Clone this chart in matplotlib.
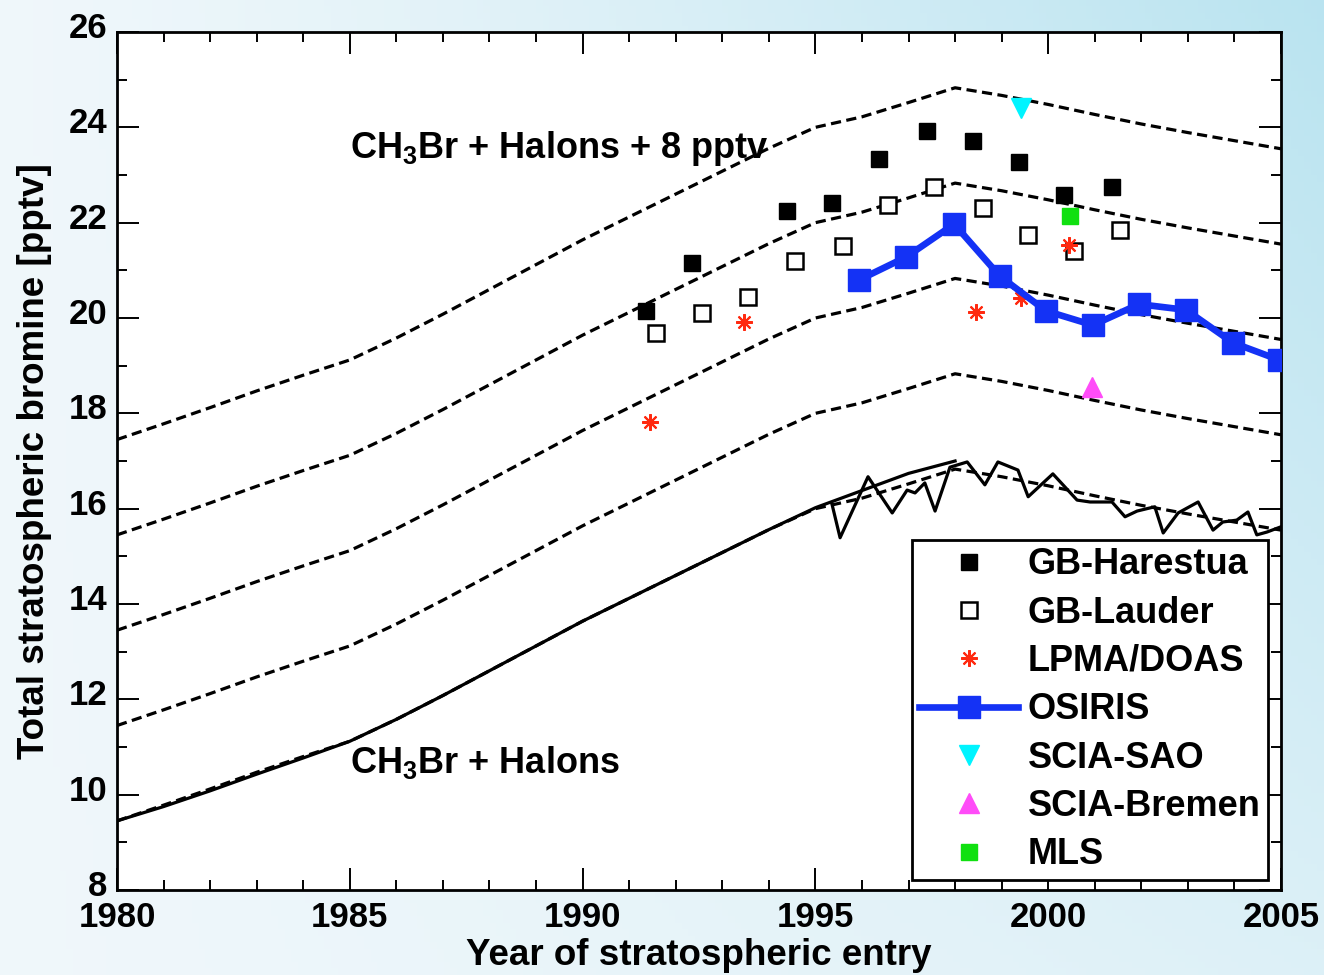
import numpy as np
import matplotlib
matplotlib.use("Agg")
import matplotlib.pyplot as plt
import matplotlib.transforms as mtransforms

plt.rcParams['font.family'] = ['Liberation Sans', 'DejaVu Sans']
plt.rcParams['font.weight'] = 'bold'
plt.rcParams['mathtext.fontset'] = 'custom'
plt.rcParams['mathtext.rm'] = 'Liberation Sans:bold'
plt.rcParams['mathtext.it'] = 'Liberation Sans:bold'
plt.rcParams['mathtext.bf'] = 'Liberation Sans:bold'
plt.rcParams['mathtext.default'] = 'rm'

# ---------------- data ----------------
model_years = list(range(1980, 2006))
model_base = [9.45, 9.78, 10.12, 10.47, 10.80, 11.12, 11.58, 12.08, 12.60, 13.12,
              13.64, 14.12, 14.60, 15.08, 15.56, 16.00, 16.22, 16.52, 16.83, 16.67,
              16.48, 16.27, 16.07, 15.89, 15.72, 15.55]
offsets = [0, 2, 4, 6, 8]

smooth_years = list(range(1980, 1999))
smooth_vals = [9.45, 9.75, 10.08, 10.43, 10.77, 11.12, 11.58, 12.08, 12.60, 13.12,
               13.64, 14.12, 14.60, 15.08, 15.56, 16.02, 16.38, 16.74, 17.00]

jag_years = [1995.35, 1995.53, 1996.13, 1996.65, 1996.97, 1997.14, 1997.35, 1997.57,
             1997.89, 1998.26, 1998.64, 1998.92, 1999.35, 1999.57, 2000.10, 2000.62,
             2000.90, 2001.37, 2001.65, 2001.91, 2002.29, 2002.47, 2002.79, 2003.22,
             2003.54, 2003.75, 2004.05, 2004.29, 2004.48, 2004.70, 2005.00]
jag_vals = [16.12, 15.39, 16.67, 15.91, 16.39, 16.33, 16.54, 15.95,
            16.87, 16.98, 16.50, 16.98, 16.81, 16.25, 16.73, 16.18,
            16.14, 16.14, 15.83, 15.95, 16.04, 15.49, 15.91, 16.14,
            15.55, 15.72, 15.76, 15.93, 15.45, 15.51, 15.62]

harestua_x = [1991.36, 1992.35, 1994.39, 1995.36, 1996.37, 1997.40, 1998.38, 1999.37, 2000.34, 2001.37]
harestua_y = [20.15, 21.15, 22.24, 22.42, 23.34, 23.92, 23.71, 23.27, 22.58, 22.75]

lauder_x = [1991.58, 1992.56, 1993.55, 1994.56, 1995.59, 1996.56, 1997.55, 1998.60, 1999.57, 2000.55, 2001.54]
lauder_y = [19.69, 20.11, 20.44, 21.20, 21.51, 22.37, 22.75, 22.31, 21.74, 21.41, 21.85]

lpma_x = [1991.45, 1993.47, 1998.45, 1999.42, 2000.45]
lpma_y = [17.82, 19.92, 20.13, 20.42, 21.53]

osiris_x = [1995.94, 1996.95, 1997.98, 1998.96, 1999.95, 2000.96, 2001.95, 2002.96, 2003.97, 2004.96]
osiris_y = [20.80, 21.28, 21.97, 20.88, 20.15, 19.85, 20.29, 20.17, 19.48, 19.12]

sciasao_x = [1999.42]
sciasao_y = [24.41]
sciabremen_x = [2000.94]
sciabremen_y = [18.55]
mls_x = [2000.47]
mls_y = [22.14]

x_ticks = [1980, 1985, 1990, 1995, 2000, 2005]
y_ticks = [8, 10, 12, 14, 16, 18, 20, 22, 24, 26]

# ---------------- figure ----------------
W, H = 1324, 975
fig = plt.figure(figsize=(W / 100, H / 100), dpi=100)

# soft light-blue background
bg = fig.add_axes([0, 0, 1, 1], zorder=-10)
xx, yy = np.meshgrid(np.linspace(0, 1, 200), np.linspace(0, 1, 150))
w = np.clip(0.12 + 0.85 * xx ** 1.3 * (0.35 + 0.65 * (1 - yy)), 0, 1)
white = np.array([0.97, 0.98, 0.99])
cyan = np.array([0.72, 0.89, 0.94])
img = white[None, None, :] * (1 - w[..., None]) + cyan[None, None, :] * w[..., None]
bg.imshow(img, aspect='auto', extent=[0, 1, 0, 1], origin='upper')
bg.axis('off')

ax = fig.add_axes([117 / W, 1 - 890 / H, (1281 - 117) / W, (890 - 32) / H])
ax.set_facecolor('white')

lw_line = 2.3
for off in offsets:
    ax.plot(model_years, [v + off for v in model_base], color='black', lw=lw_line,
            dashes=(3.2, 1.7), zorder=2)
ax.plot(smooth_years, smooth_vals, color='black', lw=lw_line, zorder=2)
ax.plot(jag_years, jag_vals, color='black', lw=lw_line, zorder=2)

h1, = ax.plot(harestua_x, harestua_y, ls='none', marker='s', ms=12, color='black',
              mec='black', label='GB-Harestua', zorder=4)
h2, = ax.plot(lauder_x, lauder_y, ls='none', marker='s', ms=12, mfc='white',
              mec='black', mew=1.8, label='GB-Lauder', zorder=4)
h3, = ax.plot(lpma_x, lpma_y, ls='none', marker=(8, 2, 0), ms=12, color='#ff2a10',
              mew=1.5, label='LPMA/DOAS', zorder=4)
h4, = ax.plot(osiris_x, osiris_y, color='#1432f5', lw=4.8, marker='s', ms=16,
              mfc='#1432f5', mec='#1432f5', label='OSIRIS', zorder=5)
h5, = ax.plot(sciasao_x, sciasao_y, ls='none', marker='v', ms=14, color='#00f4ff',
              label='SCIA-SAO', zorder=4)
h6, = ax.plot(sciabremen_x, sciabremen_y, ls='none', marker='^', ms=14, color='#ff4cf8',
              label='SCIA-Bremen', zorder=4)
h7, = ax.plot(mls_x, mls_y, ls='none', marker='s', ms=12, color='#10e010',
              label='MLS', zorder=4)

ax.text(1985.0, 23.36, r'CH$_3$Br + Halons + 8 pptv', fontsize=26, fontweight='bold',
        va='baseline', ha='left', zorder=6)
ax.text(1985.0, 10.46, r'CH$_3$Br + Halons', fontsize=26, fontweight='bold',
        va='baseline', ha='left', zorder=6)

ax.set_xlim(1980, 2005)
ax.set_ylim(8, 26)
ax.set_xticks(x_ticks)
ax.set_yticks(y_ticks)
ax.set_xticks(np.arange(1980, 2006, 1), minor=True)
ax.set_yticks(np.arange(8, 27, 1), minor=True)
ax.tick_params(which='both', direction='in', top=True, right=True, labelsize=25, width=1.4)
ax.tick_params(which='major', length=16)
ax.tick_params(which='minor', length=7)
ax.tick_params(axis='x', pad=8)
ax.tick_params(axis='y', pad=7)
for lab in ax.get_xticklabels() + ax.get_yticklabels():
    lab.set_fontweight('bold')
up = mtransforms.ScaledTranslation(0, 0.07, fig.dpi_scale_trans)
for lab in ax.get_yticklabels():
    lab.set_transform(lab.get_transform() + up)
for s in ax.spines.values():
    s.set_linewidth(2.0)

ax.set_xlabel('Year of stratospheric entry', fontsize=26.5, fontweight='bold', labelpad=3)
ax.set_ylabel('Total stratospheric bromine [pptv]', fontsize=26.5, fontweight='bold', labelpad=12)

leg = ax.legend(handles=[h1, h2, h3, h4, h5, h6, h7], loc='lower right',
                bbox_to_anchor=(0.9888, 0.0117), borderaxespad=0,
                frameon=True, fancybox=False, framealpha=1, edgecolor='black',
                handlelength=2.75, handletextpad=0.25, labelspacing=0.37,
                borderpad=0.21, prop={'weight': 'bold', 'size': 26})
leg.get_frame().set_linewidth(2.0)
leg.set_zorder(10)

fig.savefig('out.png', dpi=100)
